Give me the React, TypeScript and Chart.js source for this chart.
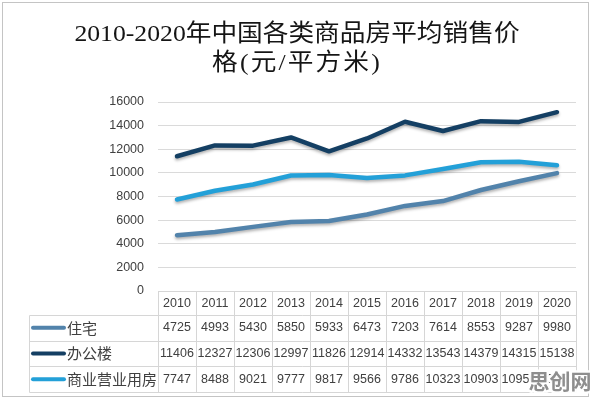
import React, { useEffect, useRef } from "react";
import { Chart, registerables } from "chart.js";

Chart.register(...registerables);

// Average sales price of commercial housing in China, 2010-2020 (yuan / m²)
const years = ["2010", "2011", "2012", "2013", "2014", "2015", "2016", "2017", "2018", "2019", "2020"];
const residential = [4725, 4993, 5430, 5850, 5933, 6473, 7203, 7614, 8553, 9287, 9980];
const office = [11406, 12327, 12306, 12997, 11826, 12914, 14332, 13543, 14379, 14315, 15138];
const commercial = [7747, 8488, 9021, 9777, 9817, 9566, 9786, 10323, 10903, 10950, 10650];
const seriesNames = ["住宅", "办公楼", "商业营业用房"];
const seriesColors = ["#5283ab", "#143f63", "#23a0d8"];
const titleLines = ["2010-2020年中国各类商品房平均销售价", "格(元/平方米)"];
const watermark = "思创网";

const Y_MAX = 16000;
const Y_STEP = 2000;

const TEXT = "#404040";
const BORDER = "#d6d6d6";
const NUM_FONT = '"Liberation Sans", Arial, sans-serif';
const CJK_FONT = '"Noto Sans CJK SC", "Noto Sans", sans-serif';

const seriesValues = [residential, office, commercial];

// White page, outer frame and the two-line title
const framePlugin = {
  id: "frameAndTitle",
  beforeDraw(chart: any) {
    const { ctx, width, height } = chart;
    ctx.save();
    ctx.fillStyle = "#ffffff";
    ctx.fillRect(0, 0, width, height);
    ctx.strokeStyle = "#c4c4c4";
    ctx.lineWidth = 1;
    ctx.strokeRect(2.5, 2.5, 586, 394);

    ctx.fillStyle = "#151515";
    ctx.textAlign = "center";
    ctx.textBaseline = "middle";
    ctx.font = `24px "Liberation Serif", ${CJK_FONT}`;
    const centers = [35, 64];
    const spacing = ["0px", "2px"];
    titleLines.forEach((line, i) => {
      ctx.save();
      (ctx as any).letterSpacing = spacing[i];
      ctx.translate(297, centers[i]);
      ctx.scale(1.07, 1);
      ctx.fillText(line, 0, 0);
      ctx.restore();
    });
    ctx.restore();
  },
};

// Soft drop shadow under the series lines
const shadowPlugin = {
  id: "lineShadow",
  beforeDatasetsDraw(chart: any) {
    const ctx = chart.ctx;
    ctx.save();
    ctx.shadowColor = "rgba(0,0,0,0.3)";
    ctx.shadowBlur = 3;
    ctx.shadowOffsetY = 2;
  },
  afterDatasetsDraw(chart: any) {
    chart.ctx.restore();
  },
};

// Data table under the plot, with columns aligned to the category scale
const tablePlugin = {
  id: "dataTable",
  afterDraw(chart: any) {
    const { ctx, chartArea, scales } = chart;
    const xs = scales.x;
    const left = chartArea.left;
    const right = chartArea.right;
    const colW = (right - left) / years.length;
    const top = chartArea.bottom;
    const rowEdges = [top, top + 24, top + 49.7, top + 75.3, top + 101];
    const legendLeft = 29.5;

    ctx.save();
    ctx.strokeStyle = BORDER;
    ctx.lineWidth = 1;

    // horizontal rules
    ctx.beginPath();
    ctx.moveTo(left, Math.round(rowEdges[0]) + 0.5);
    ctx.lineTo(right, Math.round(rowEdges[0]) + 0.5);
    for (let r = 1; r < rowEdges.length; r++) {
      const y = Math.round(rowEdges[r]) + 0.5;
      ctx.moveTo(legendLeft, y);
      ctx.lineTo(right, y);
    }
    // vertical rules
    for (let c = 0; c <= years.length; c++) {
      const x = Math.round(left + c * colW) + 0.5;
      ctx.moveTo(x, rowEdges[0]);
      ctx.lineTo(x, Math.round(rowEdges[4]) + 0.5);
    }
    ctx.moveTo(legendLeft, Math.round(rowEdges[1]) + 0.5);
    ctx.lineTo(legendLeft, Math.round(rowEdges[4]) + 0.5);
    ctx.stroke();

    ctx.fillStyle = TEXT;
    ctx.textAlign = "center";
    ctx.textBaseline = "middle";
    ctx.font = `12.5px ${NUM_FONT}`;

    // header row: years
    years.forEach((yr, i) => {
      const cx = xs.getPixelForValue(i);
      ctx.fillText(yr, cx, (rowEdges[0] + rowEdges[1]) / 2 + 1);
    });

    // one row per series
    seriesValues.forEach((vals, s) => {
      const cy = (rowEdges[s + 1] + rowEdges[s + 2]) / 2;
      ctx.font = `12.5px ${NUM_FONT}`;
      ctx.textAlign = "center";
      ctx.fillStyle = TEXT;
      vals.forEach((v, i) => {
        ctx.fillText(String(v), xs.getPixelForValue(i), cy);
      });

      // legend key
      ctx.strokeStyle = seriesColors[s];
      ctx.lineWidth = 4;
      ctx.lineCap = "round";
      ctx.beginPath();
      ctx.moveTo(33, cy);
      ctx.lineTo(64, cy);
      ctx.stroke();

      ctx.font = `15px ${CJK_FONT}`;
      ctx.textAlign = "left";
      ctx.fillStyle = TEXT;
      ctx.fillText(seriesNames[s], 67, cy);
    });

    // site watermark in the lower-right corner
    ctx.font = `bold 21px ${CJK_FONT}`;
    ctx.textAlign = "center";
    ctx.textBaseline = "middle";
    ctx.lineJoin = "round";
    ctx.lineWidth = 5;
    ctx.strokeStyle = "rgba(255,255,255,0.95)";
    ctx.strokeText(watermark, 560, 381);
    ctx.fillStyle = "#8e8e8e";
    ctx.fillText(watermark, 560, 381);
    ctx.restore();
  },
};

export default function App() {
  const canvasRef = useRef<HTMLCanvasElement>(null);

  useEffect(() => {
    if (!canvasRef.current) return;
    const chart = new Chart(canvasRef.current, {
      type: "line",
      data: {
        labels: years,
        datasets: seriesValues.map((vals, i) => ({
          label: seriesNames[i],
          data: vals,
          borderColor: seriesColors[i],
          backgroundColor: seriesColors[i],
          borderWidth: 4.5,
          borderCapStyle: "round" as const,
          borderJoinStyle: "round" as const,
          pointRadius: 0,
          tension: 0,
          fill: false,
        })),
      },
      options: {
        responsive: false,
        animation: false,
        devicePixelRatio: 1,
        layout: { padding: { left: 0, right: 20, top: 102, bottom: 110 } },
        plugins: {
          legend: { display: false },
          title: { display: false },
          tooltip: { enabled: false },
        },
        scales: {
          x: { display: false, offset: true },
          y: {
            min: 0,
            max: Y_MAX,
            ticks: {
              stepSize: Y_STEP,
              padding: 14,
              color: TEXT,
              font: { family: NUM_FONT, size: 12.5 },
              callback: (value: any) => String(value),
            },
            grid: { color: "#dadada", drawTicks: false, lineWidth: 1 },
            border: { display: false },
            afterFit: (scale: any) => {
              scale.width = 158;
            },
          },
        },
      },
      plugins: [framePlugin, shadowPlugin, tablePlugin],
    });
    return () => chart.destroy();
  }, []);

  return (
    <div style={{ position: "absolute", left: 0, top: 0, width: 596, height: 401 }}>
      <canvas ref={canvasRef} width={596} height={401} style={{ display: "block" }} />
    </div>
  );
}
